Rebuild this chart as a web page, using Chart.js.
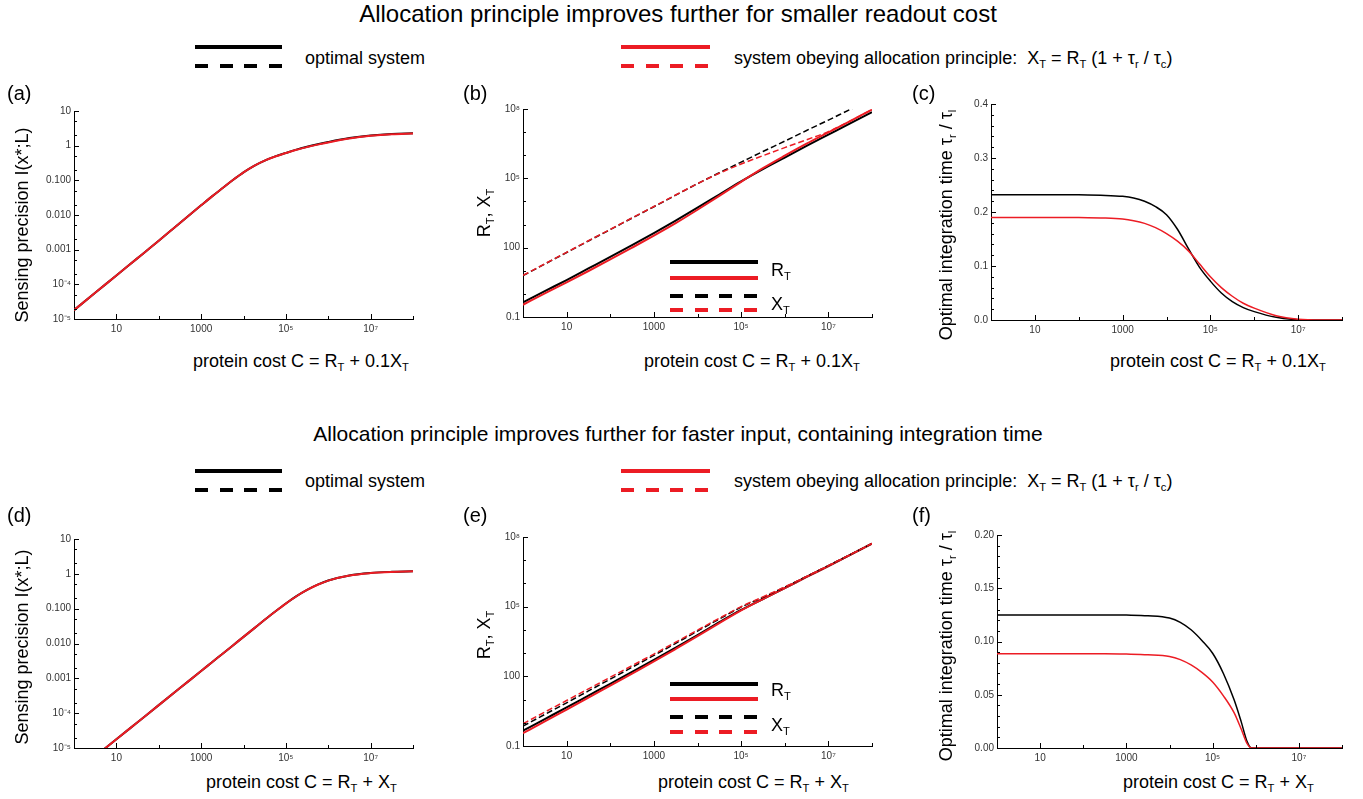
<!DOCTYPE html>
<html>
<head>
<meta charset="utf-8">
<script src="https://cdn.jsdelivr.net/npm/chart.js@4.4.0/dist/chart.umd.min.js"></script>
<style>
  body { margin: 0; background: #fff; }
  #fig { position: relative; width: 1363px; height: 799px; overflow: hidden; font-family: 'Liberation Sans', Arial, sans-serif; color: #000; }
  #fig canvas { position: absolute; }
  .t { position: absolute; white-space: nowrap; line-height: 1; z-index: 2; }
  .t sub { font-size: 0.62em; vertical-align: -0.4em; line-height: 0; }
  .title { transform: translate(-50%, -50%); }
  .leg { font-size: 18px; transform: translateY(-50%); }
  .pl { font-size: 20px; }
  .xt { font-size: 18px; transform: translateY(-50%); }
  .yt { font-size: 18px; transform: translate(-50%, -50%) rotate(-90deg); }
  .ln { position: absolute; height: 4px; z-index: 2; }
  .k { background: #000; }
  .r { background: #ec1c24; }
  .kd { background: repeating-linear-gradient(90deg, #000 0 13px, transparent 13px 24.7px); }
  .rd { background: repeating-linear-gradient(90deg, #ec1c24 0 13px, transparent 13px 24.7px); }
</style>
</head>
<body>
<div id="fig">
  <div class="t title" style="left:678px;top:14px;font-size:24px">Allocation principle improves further for smaller readout cost</div>
  <div class="ln k" style="left:195px;top:45px;width:87px"></div>
  <div class="ln kd" style="left:195px;top:64px;width:87px"></div>
  <div class="t leg" style="left:305px;top:58px">optimal system</div>
  <div class="ln r" style="left:621px;top:45px;width:89px"></div>
  <div class="ln rd" style="left:621px;top:64px;width:89px"></div>
  <div class="t leg" style="left:734px;top:58px">system obeying allocation principle:&nbsp; X<sub>T</sub> = R<sub>T</sub> (1 + τ<sub>r</sub> / τ<sub>c</sub>)</div>

  <div class="t pl" style="left:7px;top:83px">(a)</div>
  <div class="t pl" style="left:463px;top:83px">(b)</div>
  <div class="t pl" style="left:912px;top:83px">(c)</div>
  <div class="t yt" style="left:22px;top:225px">Sensing precision I(x*;L)</div>
  <div class="t yt" style="left:484px;top:213px">R<sub>T</sub>, X<sub>T</sub></div>
  <div class="t yt" style="left:946px;top:225px">Optimal integration time τ<sub>r</sub> / τ<sub>l</sub></div>
  <div class="t xt" style="left:193px;top:361px">protein cost C = R<sub>T</sub> + 0.1X<sub>T</sub></div>
  <div class="t xt" style="left:644px;top:361px">protein cost C = R<sub>T</sub> + 0.1X<sub>T</sub></div>
  <div class="t xt" style="left:1110px;top:361px">protein cost C = R<sub>T</sub> + 0.1X<sub>T</sub></div>
  <div class="ln k" style="left:670px;top:260px;width:88px"></div>
  <div class="ln r" style="left:670px;top:276px;width:88px"></div>
  <div class="ln kd" style="left:670px;top:294px;width:88px"></div>
  <div class="ln rd" style="left:670px;top:308px;width:88px"></div>
  <div class="t leg" style="left:771px;top:270px">R<sub>T</sub></div>
  <div class="t leg" style="left:771px;top:304px">X<sub>T</sub></div>

  <div class="t title" style="left:678px;top:433px;font-size:21px">Allocation principle improves further for faster input, containing integration time</div>
  <div class="ln k" style="left:195px;top:469px;width:87px"></div>
  <div class="ln kd" style="left:195px;top:488px;width:87px"></div>
  <div class="t leg" style="left:305px;top:481px">optimal system</div>
  <div class="ln r" style="left:621px;top:469px;width:89px"></div>
  <div class="ln rd" style="left:621px;top:488px;width:89px"></div>
  <div class="t leg" style="left:734px;top:481px">system obeying allocation principle:&nbsp; X<sub>T</sub> = R<sub>T</sub> (1 + τ<sub>r</sub> / τ<sub>c</sub>)</div>

  <div class="t pl" style="left:7px;top:505px">(d)</div>
  <div class="t pl" style="left:463px;top:505px">(e)</div>
  <div class="t pl" style="left:912px;top:505px">(f)</div>
  <div class="t yt" style="left:22px;top:647px">Sensing precision I(x*;L)</div>
  <div class="t yt" style="left:484px;top:635px">R<sub>T</sub>, X<sub>T</sub></div>
  <div class="t yt" style="left:946px;top:646px">Optimal integration time τ<sub>r</sub> / τ<sub>l</sub></div>
  <div class="t xt" style="left:206px;top:782px">protein cost C = R<sub>T</sub> + X<sub>T</sub></div>
  <div class="t xt" style="left:658px;top:782px">protein cost C = R<sub>T</sub> + X<sub>T</sub></div>
  <div class="t xt" style="left:1123px;top:782px">protein cost C = R<sub>T</sub> + X<sub>T</sub></div>
  <div class="ln k" style="left:670px;top:682px;width:88px"></div>
  <div class="ln r" style="left:670px;top:697px;width:88px"></div>
  <div class="ln kd" style="left:670px;top:715px;width:88px"></div>
  <div class="ln rd" style="left:670px;top:730px;width:88px"></div>
  <div class="t leg" style="left:771px;top:690px">R<sub>T</sub></div>
  <div class="t leg" style="left:771px;top:725px">X<sub>T</sub></div>
</div>

<script>
// protein cost C, half-decade steps
const costGrid = [1, 3.162, 10, 31.62, 100, 316.2, 1000, 3162, 1e4, 3.162e4, 1e5, 3.162e5, 1e6, 3.162e6, 1e7, 3.162e7, 1e8];
// quarter decades between 10^3 and 10^6, where the curves bend
const costGridQ = [1, 3.162, 10, 31.62, 100, 316.2, 1000, 1778, 3162, 5623, 1e4, 1.778e4, 3.162e4, 5.623e4, 1e5, 1.778e5, 3.162e5, 5.623e5, 1e6, 3.162e6, 1e7, 3.162e7, 1e8];
// finer grid for panel (f) where the curves drop to zero
const costGridF = [1, 3.162, 10, 31.62, 100, 316.2, 1000, 3162, 1e4, 1.778e4, 3.162e4, 5.623e4, 1e5, 1.778e5, 3.162e5, 4.571e5, 6.310e5, 7.943e5, 1e6, 3.162e6, 1e7, 3.162e7, 1e8];

// (a) sensing precision, C = R_T + 0.1 X_T
const precOptA   = [1.8e-5, 5.7e-5, 1.8e-4, 5.7e-4, 1.8e-3, 5.9e-3, 0.019, 0.0339, 0.0589, 0.102, 0.170, 0.263, 0.372, 0.490, 0.617, 0.77, 0.93, 1.10, 1.28, 1.66, 1.97, 2.18, 2.28];
const precAllocA = [1.8e-5, 5.7e-5, 1.8e-4, 5.7e-4, 1.8e-3, 5.9e-3, 0.019, 0.0339, 0.0589, 0.102, 0.170, 0.263, 0.372, 0.489, 0.612, 0.76, 0.91, 1.07, 1.24, 1.61, 1.92, 2.14, 2.26];

// (b) receptor and readout copy numbers
const rOptB   = [0.427, 1.318, 3.981, 12.59, 39.81, 128.8, 426.6, 1479, 5370, 19950, 74130, 251200, 794300, 2.512e6, 7.762e6, 2.399e7, 7.244e7];
const rAllocB = [0.339, 1.047, 3.162, 9.772, 30.9, 100, 331.1, 1148, 4365, 17380, 70790, 275400, 955000, 3.162e6, 9.772e6, 3.02e7, 9.333e7];
const xOptB   = [6.17, 19.5, 61.7, 195, 603, 1905, 5888, 18620, 58880, 173800, 501200, 1.445e6, 4.074e6, 1.175e7, 3.311e7, 9.55e7, 2.69e8];
const xAllocB = [6.31, 19.95, 63.1, 199.5, 616.6, 1950, 6026, 19050, 58880, 166000, 416900, 955000, 2.138e6, 4.677e6, 1.047e7, 3.02e7, 9.333e7];

// (c) optimal integration time
const tauOptC   = [0.232, 0.232, 0.232, 0.232, 0.232, 0.231, 0.229, 0.226, 0.220, 0.210, 0.195, 0.168, 0.132, 0.098, 0.072, 0.050, 0.034, 0.023, 0.0155, 0.005, 0.0006, 0, 0];
const tauAllocC = [0.190, 0.190, 0.190, 0.190, 0.190, 0.189, 0.187, 0.184, 0.179, 0.171, 0.160, 0.146, 0.128, 0.104, 0.080, 0.060, 0.044, 0.031, 0.022, 0.008, 0.0015, 0, 0];

// (d) sensing precision, C = R_T + X_T
const precOptD   = [1.86e-6, 5.75e-6, 1.78e-5, 5.5e-5, 1.70e-4, 5.25e-4, 1.62e-3, 2.85e-3, 5.01e-3, 8.81e-3, 0.0155, 0.0272, 0.0479, 0.0832, 0.141, 0.229, 0.347, 0.490, 0.646, 0.902, 1.059, 1.143, 1.189];
const precAllocD = [1.86e-6, 5.75e-6, 1.78e-5, 5.5e-5, 1.70e-4, 5.25e-4, 1.62e-3, 2.85e-3, 5.01e-3, 8.81e-3, 0.0155, 0.0272, 0.0479, 0.0830, 0.140, 0.227, 0.344, 0.485, 0.640, 0.895, 1.050, 1.135, 1.180];

// (e) copy numbers
const rOptE   = [0.457, 1.445, 4.571, 14.79, 47.86, 154.9, 512.9, 1738, 6026, 21380, 72440, 213800, 631000, 1.905e6, 5.623e6, 1.698e7, 5.129e7];
const rAllocE = [0.355, 1.148, 3.715, 12.02, 39.81, 131.8, 436.5, 1514, 5370, 19500, 69180, 213800, 631000, 1.905e6, 5.623e6, 1.698e7, 5.129e7];
const xOptE   = [0.724, 2.291, 7.244, 23.44, 75.86, 245.5, 794.3, 2630, 8913, 29510, 95500, 251200, 691800, 1.995e6, 5.888e6, 1.738e7, 5.248e7];
const xAllocE = [0.912, 2.884, 9.12, 28.84, 91.2, 288.4, 912, 2951, 9772, 31620, 100000, 263000, 707900, 1.995e6, 5.888e6, 1.738e7, 5.248e7];

// (f) optimal integration time
const tauOptF   = [0.125, 0.125, 0.125, 0.125, 0.125, 0.125, 0.1248, 0.1242, 0.122, 0.118, 0.111, 0.101, 0.089, 0.070, 0.045, 0.025, 0.006, 0, 0, 0, 0, 0, 0];
const tauAllocF = [0.0885, 0.0885, 0.0885, 0.0885, 0.0885, 0.0885, 0.0882, 0.0876, 0.086, 0.083, 0.078, 0.071, 0.062, 0.049, 0.033, 0.018, 0.004, 0, 0, 0, 0, 0, 0];

// tick values and labels
const costTicks = [10, 1000, 1e5, 1e7];
const costLabels = ['10', '1000', '10⁵', '10⁷'];
const costMinor = [100, 1e4, 1e6, 1e8];
const precTicks = [1e-5, 1e-4, 0.001, 0.01, 0.1, 1, 10];
const precLabels = ['10⁻⁵', '10⁻⁴', '0.001', '0.010', '0.100', '1', '10'];
const precMinor = [2e-5, 5e-5, 2e-4, 5e-4, 0.002, 0.005, 0.02, 0.05, 0.2, 0.5, 2, 5];
const copyTicks = [0.1, 100, 1e5, 1e8];
const copyLabels = ['0.1', '100', '10⁵', '10⁸'];
const copyMinor = [1, 10, 1000, 1e4, 1e6, 1e7];
const tauTicksC = [0, 0.1, 0.2, 0.3, 0.4];
const tauLabelsC = ['0.0', '0.1', '0.2', '0.3', '0.4'];
const tauMinorC = [0.02, 0.04, 0.06, 0.08, 0.12, 0.14, 0.16, 0.18, 0.22, 0.24, 0.26, 0.28, 0.32, 0.34, 0.36, 0.38];
const tauTicksF = [0, 0.05, 0.1, 0.15, 0.2];
const tauLabelsF = ['0.00', '0.05', '0.10', '0.15', '0.20'];
const tauMinorF = [0.01, 0.02, 0.03, 0.04, 0.06, 0.07, 0.08, 0.09, 0.11, 0.12, 0.13, 0.14, 0.16, 0.17, 0.18, 0.19];

const RED = '#ec1c24';
const FONT = "'Liberation Sans', Arial, sans-serif";

function pts(xs, ys) {
  return xs.map((x, i) => ({ x: x, y: ys[i] }));
}

function labelFor(vals, labs) {
  return v => {
    const i = vals.findIndex(t => Math.abs(t - v) <= Math.abs(t) * 1e-9);
    return i < 0 ? '' : labs[i];
  };
}

function line(xs, ys, color, width, dashed, order) {
  return {
    data: pts(xs, ys),
    borderColor: color,
    borderWidth: width,
    borderDash: dashed ? [6, 3] : [],
    pointRadius: 0,
    cubicInterpolationMode: 'monotone',
    fill: false,
    order: order
  };
}

// inward tick marks, Mathematica style
const inwardTicks = {
  id: 'inwardTicks',
  afterDraw(chart, args, o) {
    const { ctx, chartArea: a, scales } = chart;
    ctx.save();
    ctx.strokeStyle = '#000';
    ctx.lineWidth = 1;
    ctx.beginPath();
    const xt = (v, len) => {
      const p = Math.round(scales.x.getPixelForValue(v)) + 0.5;
      ctx.moveTo(p, a.bottom); ctx.lineTo(p, a.bottom - len);
    };
    const yt = (v, len) => {
      const p = Math.round(scales.y.getPixelForValue(v)) + 0.5;
      ctx.moveTo(a.left, p); ctx.lineTo(a.left + len, p);
    };
    o.xMajor.forEach(v => xt(v, 5));
    o.xMinor.forEach(v => xt(v, 3));
    o.yMajor.forEach(v => yt(v, 5));
    o.yMinor.forEach(v => yt(v, 3));
    ctx.stroke();
    ctx.restore();
  }
};

function panel(box, y, datasets) {
  const cv = document.createElement('canvas');
  const w = box.R - box.L + 72, h = box.B - box.T + 36;
  cv.width = w; cv.height = h;
  cv.style.left = (box.L - 60) + 'px';
  cv.style.top = (box.T - 12) + 'px';
  cv.style.width = w + 'px';
  cv.style.height = h + 'px';
  document.getElementById('fig').appendChild(cv);

  const tickFont = { family: FONT, size: 10 };
  new Chart(cv, {
    type: 'line',
    data: { datasets: datasets },
    options: {
      responsive: false,
      animation: false,
      devicePixelRatio: 1,
      layout: { padding: { top: 12, right: 12, left: 0, bottom: 0 } },
      scales: {
        x: {
          type: 'logarithmic', min: 1, max: 1e8,
          afterBuildTicks: s => { s.ticks = costTicks.map(v => ({ value: v })); },
          afterFit: s => { s.height = 24; },
          grid: { display: false, drawTicks: false },
          border: { display: true, color: '#000', width: 1 },
          ticks: { autoSkip: false, maxRotation: 0, minRotation: 0, padding: 4, color: '#333', font: tickFont,
                   callback: labelFor(costTicks, costLabels) }
        },
        y: {
          type: y.type, min: y.min, max: y.max,
          afterBuildTicks: s => { s.ticks = y.ticks.map(v => ({ value: v })); },
          afterFit: s => { s.width = 60; },
          grid: { display: false, drawTicks: false },
          border: { display: true, color: '#000', width: 1 },
          ticks: { autoSkip: false, padding: 3, color: '#333', font: tickFont,
                   callback: labelFor(y.ticks, y.labels) }
        }
      },
      plugins: {
        legend: { display: false },
        tooltip: { enabled: false },
        inwardTicks: { xMajor: costTicks, xMinor: costMinor, yMajor: y.ticks, yMinor: y.minor }
      }
    },
    plugins: [inwardTicks]
  });
}

const precAxis = { type: 'logarithmic', min: 1e-5, max: 10, ticks: precTicks, labels: precLabels, minor: precMinor };
const copyAxis = { type: 'logarithmic', min: 0.1, max: 1e8, ticks: copyTicks, labels: copyLabels, minor: copyMinor };

panel({ L: 74, T: 111, R: 413, B: 319 }, precAxis, [
  line(costGridQ, precOptA, '#000', 2, false, 1),
  line(costGridQ, precAllocA, RED, 2, false, 0)
]);

panel({ L: 523, T: 109, R: 872, B: 317 }, copyAxis, [
  line(costGrid, rOptB, '#000', 2, false, 3),
  line(costGrid, rAllocB, RED, 2, false, 2),
  line(costGrid, xOptB, '#000', 1.5, true, 1),
  line(costGrid, xAllocB, RED, 1.5, true, 0)
]);

panel({ L: 991, T: 104, R: 1342, B: 320 },
  { type: 'linear', min: 0, max: 0.4, ticks: tauTicksC, labels: tauLabelsC, minor: tauMinorC }, [
  line(costGridQ, tauOptC, '#000', 1.5, false, 1),
  line(costGridQ, tauAllocC, RED, 1.5, false, 0)
]);

panel({ L: 74, T: 539, R: 413, B: 748 }, precAxis, [
  line(costGridQ, precOptD, '#000', 2, false, 1),
  line(costGridQ, precAllocD, RED, 2, false, 0)
]);

panel({ L: 523, T: 537, R: 872, B: 746 }, copyAxis, [
  line(costGrid, rOptE, '#000', 2, false, 3),
  line(costGrid, rAllocE, RED, 2, false, 2),
  line(costGrid, xOptE, '#000', 1.5, true, 1),
  line(costGrid, xAllocE, RED, 1.5, true, 0)
]);

panel({ L: 997, T: 535, R: 1342, B: 748 },
  { type: 'linear', min: 0, max: 0.2, ticks: tauTicksF, labels: tauLabelsF, minor: tauMinorF }, [
  line(costGridF, tauOptF, '#000', 1.5, false, 1),
  line(costGridF, tauAllocF, RED, 1.5, false, 0)
]);
</script>
</body>
</html>
